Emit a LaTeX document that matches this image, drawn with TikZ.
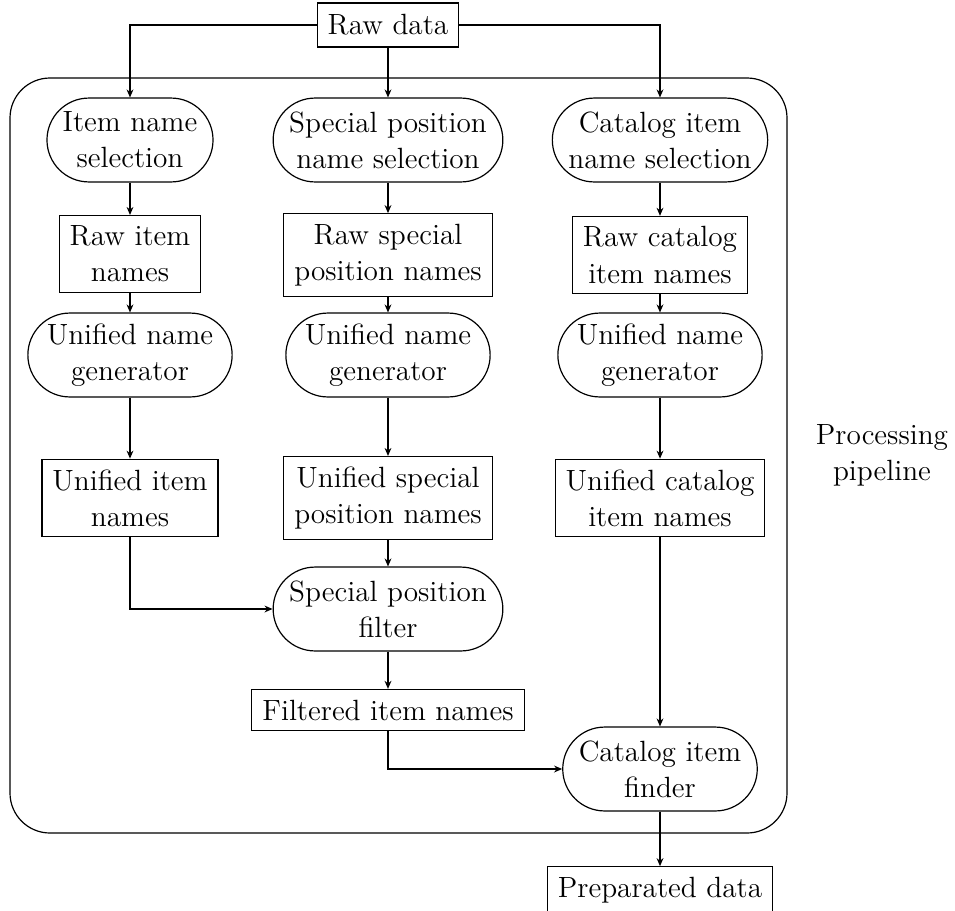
\documentclass[tikz,border=0pt]{standalone}
\usetikzlibrary{shapes.misc,arrows.meta}
\begin{document}
\begin{tikzpicture}[x=0.41pt,y=-0.41pt,line width=0.49pt,
  font=\fontsize{12}{14.8}\selectfont,
  box/.style={draw,rectangle,align=center,inner xsep=4.3pt,inner ysep=4.2pt},
  proc/.style={draw,rounded rectangle,align=center,inner xsep=2pt,inner ysep=2pt,minimum height=34.4pt},
  flow/.style={-{Stealth[length=3.3pt,width=2.8pt]}}]
\useasboundingbox (0,0) rectangle (955,910);

% processing pipeline frame
\draw[rounded corners=16.4pt] (10,78) rectangle (787,833);
\node[align=center] (pipe) at (882,455) {Processing\\pipeline};

\node[box,minimum height=18pt] (raw) at (388,25) {Raw data};

% item column
\node[proc] (sel1) at (130,140) {Item name\\selection};
\node[box]  (rn1)  at (130,254) {Raw item\\names};
\node[proc] (gen1) at (130,355) {Unified name\\generator};
\node[box]  (un1)  at (130,498) {Unified item\\names};

% special position column
\node[proc] (sel2) at (388,140) {Special position\\name selection};
\node[box]  (rn2)  at (388,255) {Raw special\\position names};
\node[proc] (gen2) at (388,355) {Unified name\\generator};
\node[box]  (un2)  at (388,498) {Unified special\\position names};
\node[proc] (filt) at (388,609) {Special position\\filter};
\node[box]  (fin)  at (388,710) {Filtered item names};

% catalog column
\node[proc] (sel3) at (660,140) {Catalog item\\name selection};
\node[box]  (rn3)  at (660,255) {Raw catalog\\item names};
\node[proc] (gen3) at (660,355) {Unified name\\generator};
\node[box]  (un3)  at (660,498) {Unified catalog\\item names};
\node[proc] (find) at (660,769) {Catalog item\\finder};
\node[box,minimum height=18pt] (out) at (660,890) {Preparated data};

% connectors
\draw[flow] (raw.west) -| (sel1.north);
\draw[flow] (raw.south) -- (sel2.north);
\draw[flow] (raw.east) -| (sel3.north);
\foreach \a/\b in {sel1/rn1,rn1/gen1,gen1/un1,sel2/rn2,rn2/gen2,gen2/un2,un2/filt,filt/fin,sel3/rn3,rn3/gen3,gen3/un3,un3/find,find/out}
  \draw[flow] (\a.south) -- (\b.north);
\draw[flow] (un1.south) |- (filt.west);
\draw[flow] (fin.south) |- (find.west);
\end{tikzpicture}
\end{document}
